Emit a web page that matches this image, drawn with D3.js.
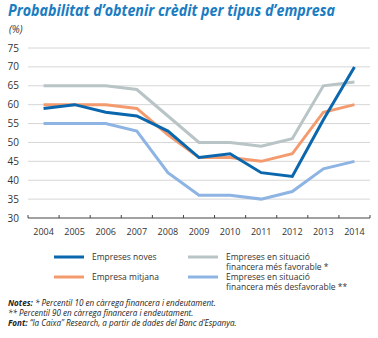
<!DOCTYPE html>
<html>
<head>
<meta charset="utf-8">
<script src="https://cdn.jsdelivr.net/npm/d3@7"></script>
<style>
body{margin:0;background:#fff}
text{font-family:"Open Sans","Noto Sans",sans-serif}
</style>
</head>
<body>
<svg id="main_svg" width="378" height="338"></svg>
<script>
// dades
const years = ["2004","2005","2006","2007","2008","2009","2010","2011","2012","2013","2014"]
const noves = [59,60,58,57,53,46,47,42,41,56,70]
const mitjana = [60,60,60,59,52,46,46,45,47,58,60]
const favorable = [65,65,65,64,57,50,50,49,51,65,66]
const desfavorable = [55,55,55,53,42,36,36,35,37,43,45]
const y_ticks = [30,35,40,45,50,55,60,65,70,75]

const series = [
    {name:"favorable", values:favorable, color:"#b9c4c6"},
    {name:"desfavorable", values:desfavorable, color:"#8db4e2"},
    {name:"mitjana", values:mitjana, color:"#f39b6e"},
    {name:"noves", values:noves, color:"#0a67ae"}
]

const svg = d3.select("#main_svg")

const x = d3.scaleBand().domain(years).range([28,370])
const y = d3.scaleLinear().domain([30,75]).range([218,48])

// titol
svg.append("text")
    .attr("x",8).attr("y",16)
    .text("Probabilitat d’obtenir crèdit per tipus d’empresa")
    .attr("font-size",15.5)
    .attr("font-weight","bold")
    .attr("font-style","italic")
    .attr("fill","#1a7cc1")
    .attr("textLength",327)
    .attr("lengthAdjust","spacingAndGlyphs")

svg.append("text")
    .attr("x",9).attr("y",33)
    .text("(%)")
    .attr("font-size",10)
    .attr("font-style","italic")
    .attr("fill","#333")

// grid
svg.selectAll(".grid")
    .data(y_ticks.filter(d=>d>30))
    .enter().append("line")
    .attr("x1",28).attr("x2",370)
    .attr("y1",d=>y(d)).attr("y2",d=>y(d))
    .attr("stroke","#d6d6d6")
    .attr("stroke-width",1)

// eix y
svg.selectAll(".ylab")
    .data(y_ticks)
    .enter().append("text")
    .attr("x",19).attr("y",d=>y(d)+3.5)
    .attr("text-anchor","end")
    .attr("font-size",10)
    .attr("fill","#333")
    .text(d=>d)

// eix x
const xAxis = svg.append("g")
    .attr("transform","translate(0,"+y(30)+")")
    .call(d3.axisBottom(x).tickSize(0).tickFormat(""))
xAxis.select(".domain").attr("stroke","#444").attr("d","M28,0H370")
const boundaries = years.map(d=>x(d)).concat([x.range()[1]])
xAxis.selectAll(".bt")
    .data(boundaries)
    .enter().append("line")
    .attr("x1",d=>d).attr("x2",d=>d)
    .attr("y1",-3).attr("y2",0)
    .attr("stroke","#444")

svg.selectAll(".xlab")
    .data(years)
    .enter().append("text")
    .attr("x",d=>x(d)+x.bandwidth()/2)
    .attr("y",235)
    .attr("text-anchor","middle")
    .attr("font-size",9)
    .attr("fill","#333")
    .text(d=>d)

// linies
const line = d3.line()
    .x((d,i)=>x(years[i])+x.bandwidth()/2)
    .y(d=>y(d))

svg.selectAll(".serie")
    .data(series)
    .enter().append("path")
    .attr("d",d=>line(d.values))
    .attr("fill","none")
    .attr("stroke",d=>d.color)
    .attr("stroke-width",3)

// llegenda
const legend = [
    {color:"#0a67ae", lines:["Empreses noves"], x:54, y:257},
    {color:"#b9c4c6", lines:["Empreses en situació","financera més favorable *"], x:188, y:257},
    {color:"#f39b6e", lines:["Empresa mitjana"], x:54, y:277},
    {color:"#8db4e2", lines:["Empreses en situació","financera més desfavorable **"], x:188, y:277}
]
legend.forEach(l=>{
    svg.append("line")
        .attr("x1",l.x).attr("x2",l.x+30)
        .attr("y1",l.y).attr("y2",l.y)
        .attr("stroke",l.color)
        .attr("stroke-width",3)
    l.lines.forEach((t,i)=>{
        svg.append("text")
            .attr("x",l.x+38).attr("y",l.y+3+i*10)
            .attr("font-size",8.5)
            .attr("fill","#333")
            .text(t)
    })
})

// notes
const notes = svg.append("g").attr("font-size",8.1).attr("font-style","italic").attr("fill","#222")
const n1 = notes.append("text").attr("x",8).attr("y",306)
n1.append("tspan").attr("font-weight","bold").text("Notes: ")
n1.append("tspan").text("* Percentil 10 en càrrega financera i endeutament.")
notes.append("text").attr("x",8).attr("y",316)
    .text("** Percentil 90 en càrrega financera i endeutament.")
const n3 = notes.append("text").attr("x",8).attr("y",326)
n3.append("tspan").attr("font-weight","bold").text("Font: ")
n3.append("tspan").text("“la Caixa” Research, a partir de dades del Banc d’Espanya.")
</script>
</body>
</html>
